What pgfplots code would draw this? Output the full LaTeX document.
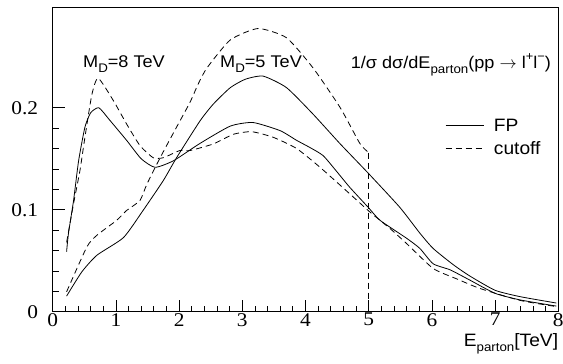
\documentclass[border=0pt]{standalone}
\usepackage{pgfplots}
\pgfplotsset{compat=1.18}
\usepackage{fontspec}
\setmainfont[FakeStretch=1.07]{Liberation Sans}
\newfontfamily\tms[FakeStretch=1.1]{Liberation Serif}
\newcommand\sub[1]{\raisebox{-0.32em}{\fontsize{12.5}{13}\selectfont #1}}
\newcommand\sups[1]{\raisebox{0.45em}{\fontsize{12}{12}\selectfont #1}}
\begin{document}
\begin{tikzpicture}
\path[use as bounding box] (-52.7bp,-52.3bp) rectangle (510.3bp,311.7bp);
\begin{axis}[at={(0,0)}, anchor=south west, scale only axis,
  width=505.6bp, height=304.4bp,
  xmin=0, xmax=8, ymin=0, ymax=0.2985,
  xtick={0,...,8}, ytick={0,0.1,0.2},
  minor x tick num=4, minor y tick num=4,
  tick align=inside, tick pos=left,
  major tick length=12bp, minor tick length=6bp,
  every tick/.style={black, line width=0.8bp},
  axis line style={line width=0.8bp},
  scaled y ticks=false,
  /pgf/number format/assume math mode=true,
  tick label style={font=\tms\fontsize{19.5}{19.5}\selectfont},
  yticklabel style={xshift=-11bp},
  xticklabel style={yshift=2bp},
  xlabel={E\sub{parton}[TeV]},
  xlabel style={at={(axis description cs:1,0)}, anchor=base east, yshift=-34.3bp, inner sep=0pt, font=\fontsize{18}{18}\selectfont},
  legend image code/.code={\draw[#1] (0bp,0bp) -- (38bp,0bp);},
  legend style={at={(axis cs:6.21,0.1885)}, anchor=north west, draw=none, fill=none,
    inner sep=0pt, outer sep=0pt, row sep=11bp, column sep=10bp,
    nodes={inner sep=0pt, text depth=0pt, text height=12bp},
    font=\fontsize{18}{18}\selectfont},
  legend cell align=left,
]
% M_D = 8 TeV, FP
\addplot[black, line width=0.8bp, smooth, tension=0.35] coordinates {
(0.22,0.059) (0.25,0.077) (0.33,0.109) (0.41,0.148) (0.51,0.181) (0.60,0.195)
(0.73,0.200) (0.90,0.188) (1.17,0.168) (1.40,0.150) (1.62,0.1416) (1.91,0.148)
(2.33,0.165) (2.81,0.182) (3.17,0.1855) (3.60,0.1775) (3.86,0.168) (4.07,0.161)
(4.28,0.153) (4.50,0.137) (4.70,0.122) (4.99,0.1025) (5.18,0.0896) (5.60,0.072)
(5.81,0.062) (6.02,0.047) (6.29,0.041) (6.60,0.031) (7.00,0.018) (7.40,0.0115) (7.97,0.0055)
};
\addlegendentry{FP}
% M_D = 8 TeV, cutoff
\addplot[black, line width=0.8bp, dash pattern=on 6bp off 4bp, smooth, tension=0.35] coordinates {
(0.22,0.068) (0.33,0.106) (0.43,0.138) (0.51,0.171) (0.62,0.213) (0.72,0.229)
(0.96,0.207) (1.17,0.184) (1.38,0.163) (1.59,0.151) (1.75,0.151) (2.01,0.158)
(2.17,0.158) (2.54,0.1645) (2.86,0.174) (3.15,0.1765) (3.49,0.171) (3.86,0.160)
(4.23,0.1416) (4.70,0.1156) (5.02,0.0977) (5.34,0.0814) (5.60,0.0668) (6.02,0.0424)
(6.40,0.032) (6.76,0.0228) (7.40,0.011) (7.97,0.005)
};
\addlegendentry{cutoff}
% M_D = 5 TeV, FP
\addplot[black, line width=0.8bp, smooth, tension=0.35, forget plot] coordinates {
(0.22,0.0153) (0.46,0.039) (0.70,0.0554) (1.12,0.0727) (1.43,0.0993) (1.75,0.1286)
(1.96,0.151) (2.33,0.187) (2.54,0.2035) (2.81,0.2197) (3.05,0.228) (3.33,0.231) (3.70,0.2197)
(4.12,0.1937) (4.55,0.1645) (4.99,0.136) (5.49,0.1025) (5.81,0.077) (6.02,0.062)
(6.34,0.046) (6.60,0.035) (7.00,0.021) (7.40,0.0147) (7.97,0.0085)
};
% M_D = 5 TeV, cutoff
\addplot[black, line width=0.8bp, dash pattern=on 6bp off 4bp, smooth, tension=0.35, forget plot] coordinates {
(0.22,0.0195) (0.54,0.0635) (0.70,0.075) (1.01,0.0895) (1.17,0.0993) (1.38,0.109)
(1.49,0.125) (1.70,0.151) (1.96,0.181) (2.17,0.205) (2.30,0.223) (2.44,0.239)
(2.81,0.2665) (3.25,0.2777) (3.70,0.2686) (4.12,0.239) (4.55,0.200) (4.86,0.165)
(5.00,0.156)
};
\addplot[black, line width=0.8bp, dash pattern=on 6bp off 4bp, forget plot] coordinates {
(5.00,0.156) (5.00,0)
};
\node[anchor=base west, inner sep=0pt, font=\fontsize{17}{17}\selectfont] at (axis cs:0.479,0.2397) {M\sub{D}=8 TeV};
\node[anchor=base west, inner sep=0pt, font=\fontsize{17}{17}\selectfont] at (axis cs:2.647,0.2397) {M\sub{D}=5 TeV};
\node[anchor=base east, inner sep=0pt, font=\fontsize{17}{17}\selectfont] at (axis cs:7.885,0.2385) {1/σ dσ/dE\sub{parton}(pp $\rightarrow$ l\sups{+}l\sups{−})};
\end{axis}
\end{tikzpicture}
\end{document}
